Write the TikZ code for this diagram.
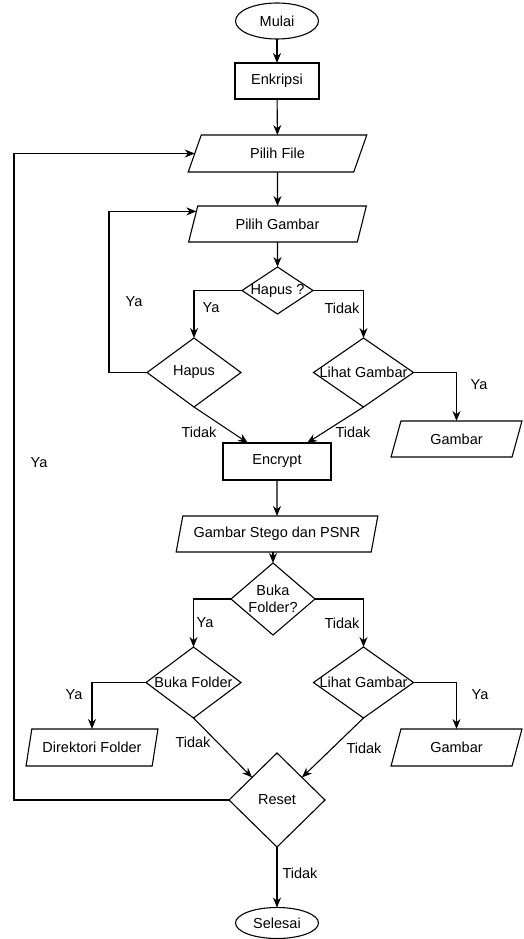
\documentclass[tikz,border=0pt]{standalone}
\usepackage{fontspec}
\setmainfont{Liberation Sans}
\usetikzlibrary{shapes.geometric,arrows.meta,calc}
\begin{document}
\begin{tikzpicture}[x=1pt,y=-1pt,
  font=\fontsize{14.5}{17}\selectfont,
  base/.style={draw=black,line width=1.1pt,inner sep=0pt,outer sep=0pt},
  term/.style={base,ellipse,minimum width=83pt,minimum height=36pt},
  proc/.style={base,rectangle},
  io/.style={base,inner sep=1pt,trapezium,trapezium left angle=69,trapezium right angle=111,trapezium stretches=true},
  dec/.style={base,diamond},
  flow/.style={line width=1.1pt,-{Stealth[length=10pt,width=8pt]}},
  lbl/.style={inner sep=0pt}
]
\useasboundingbox (0,0) rectangle (524,939);

\node[term] (mulai) at (277,21) {Mulai};
\node[proc,minimum width=84pt,minimum height=36pt] (enk) at (277,81) {Enkripsi};
\node[io,minimum width=179pt,minimum height=37pt] (pf) at (277.5,153.5) {Pilih File};
\node[io,minimum width=179pt,minimum height=36pt] (pg) at (277.5,224) {Pilih Gambar};
\node[dec,minimum width=71pt,minimum height=47pt,label=center:{Hapus ?}] (hq) at (277.5,290.5) {};
\node[dec,minimum width=94pt,minimum height=69pt,label=center:{Hapus}] (hp) at (194,372.5) {};
\node[dec,minimum width=100pt,minimum height=69pt,label=center:{Lihat Gambar}] (lg1) at (363.5,372.5) {};
\node[io,minimum width=131pt,minimum height=36pt] (gb1) at (456.5,439) {Gambar};
\node[proc,minimum width=108pt,minimum height=37pt] (enc) at (277,461.5) {Encrypt};
\node[io,minimum width=202pt,minimum height=36pt] (st) at (277,534) {Gambar Stego dan PSNR};
\node[dec,minimum width=84pt,minimum height=72pt,label={[align=center]center:{Buka\\Folder?}}] (bq) at (273,599) {};
\node[dec,minimum width=95pt,minimum height=71pt,label=center:{Buka Folder}] (bf) at (193.5,682.5) {};
\node[dec,minimum width=100pt,minimum height=71pt,label=center:{Lihat Gambar}] (lg2) at (363.5,682.5) {};
\node[io,minimum width=132pt,minimum height=37pt] (dir) at (92,747.5) {Direktori Folder};
\node[io,minimum width=131pt,minimum height=37pt] (gb2) at (456.5,747.5) {Gambar};
\node[dec,minimum width=96pt,minimum height=94pt,label=center:{Reset}] (rs) at (277,800) {};
\node[term,minimum height=31pt] (sel) at (277,923) {Selesai};

\coordinate (pgin) at ($(pg.top left corner)!0.15!(pg.bottom left corner)$);
\coordinate (encl) at ($(enc.north west)+(25,0)$);
\coordinate (encr) at ($(enc.north east)+(-24,0)$);
\coordinate (rsl) at ($(rs.west)!0.48!(rs.north)$);
\coordinate (rsr) at ($(rs.east)!0.48!(rs.north)$);

\draw[flow] (mulai) -- (enk);
\draw[flow] (enk) -- (pf);
\draw[flow] (pf) -- (pg);
\draw[flow] (pg) -- (hq);
\draw[flow] (hq.west) -| (hp.north);
\draw[flow] (hq.east) -| (lg1.north);
\draw[flow] (hp.west) -- ++(-38,0) |- (pgin);
\draw[flow] (lg1.east) -| (gb1.north);
\draw[flow] (hp.south) -- (encl);
\draw[flow] (lg1.south) -- (encr);
\draw[flow] (enc) -- (st);
\draw[flow] (bq.north |- st.south) -- (bq.north);
\draw[flow] (bq.west) -| (bf.north);
\draw[flow] (bq.east) -| (lg2.north);
\draw[flow] (bf.west) -| (dir.north);
\draw[flow] (lg2.east) -| (gb2.north);
\draw[flow] (bf.south) -- (rsl);
\draw[flow] (lg2.south) -- (rsr);
\draw[flow] (rs.west) -- ++(-215,0) |- (pf.west);
\draw[flow] (rs) -- (sel);

\node[lbl] (l1) at (134,302) {Ya};
\node[lbl] (l2) at (211,308) {Ya};
\node[lbl] (l3) at (342,308) {Tidak};
\node[lbl] (l4) at (479,385) {Ya};
\node[lbl] (l5) at (199,432) {Tidak};
\node[lbl] (l6) at (353,432) {Tidak};
\node[lbl] (l7) at (39,463) {Ya};
\node[lbl] (l8) at (205,623) {Ya};
\node[lbl] (l9) at (342,623) {Tidak};
\node[lbl] (l10) at (74,695) {Ya};
\node[lbl] (l11) at (480,695) {Ya};
\node[lbl] (l12) at (193,742) {Tidak};
\node[lbl] (l13) at (364,748) {Tidak};
\node[lbl] (l14) at (300,873) {Tidak};
\end{tikzpicture}
\end{document}
